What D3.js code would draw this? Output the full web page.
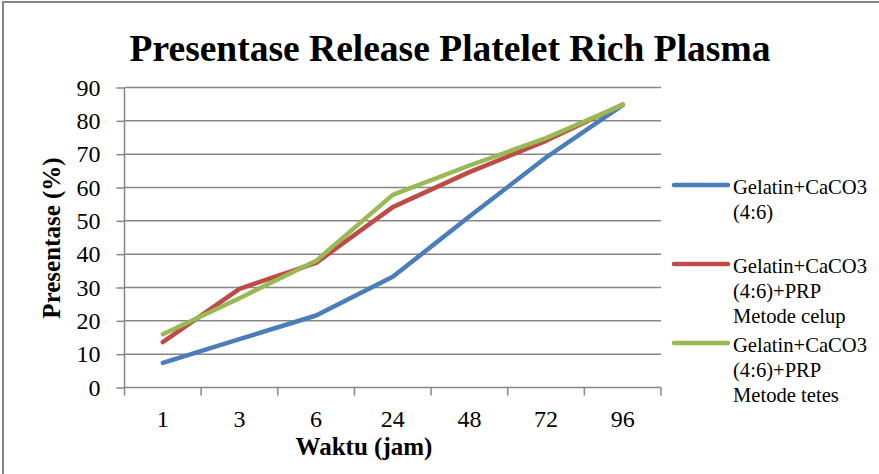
<!DOCTYPE html>
<html>
<head>
<meta charset="utf-8">
<script src="https://cdn.jsdelivr.net/npm/d3@7"></script>
<style>
html,body{margin:0;padding:0;background:#fff;}
svg{display:block;}
text{font-family:"Liberation Serif","Times New Roman",serif;fill:#000;}
</style>
</head>
<body>
<svg id="chart" width="879" height="474"></svg>
<script>
const categories = ["1", "3", "6", "24", "48", "72", "96"];
const seriesNames = [
  ["Gelatin+CaCO3", "(4:6)"],
  ["Gelatin+CaCO3", "(4:6)+PRP", "Metode celup"],
  ["Gelatin+CaCO3", "(4:6)+PRP", "Metode tetes"]
];
const seriesA = [7.4, 14.5, 21.6, 33.2, 51.3, 69.0, 84.7];
const seriesB = [13.6, 29.6, 37.4, 54.1, 64.6, 74.0, 84.9];
const seriesC = [16.0, 26.8, 38.0, 57.8, 66.6, 74.8, 84.8];
const yTicks = [0, 10, 20, 30, 40, 50, 60, 70, 80, 90];
const colors = ["#4A7EBB", "#BE4B48", "#98B954"];
const title = "Presentase Release Platelet Rich Plasma";
const xTitle = "Waktu (jam)";
const yTitle = "Presentase (%)";

const svg = d3.select("#chart");
const W = 879, H = 474;
const plot = {left: 124.5, right: 661, top: 87.5, bottom: 387.5};

// outer border
svg.append("rect").attr("x", 3).attr("y", 2).attr("width", W + 10).attr("height", H + 10)
  .attr("fill", "none").attr("stroke", "#868686").attr("stroke-width", 2);

const x = d3.scaleBand().domain(categories).range([plot.left, plot.right]).padding(0);
const y = d3.scaleLinear().domain([0, 90]).range([plot.bottom, plot.top]);
const gridColor = "#868686";

// gridlines
svg.append("g").selectAll("line").data(yTicks.filter(d => d > 0)).join("line")
  .attr("x1", plot.left).attr("x2", plot.right)
  .attr("y1", d => y(d)).attr("y2", d => y(d))
  .attr("stroke", gridColor).attr("stroke-width", 1.5);

// y axis
const yAxis = d3.axisLeft(y).tickValues(yTicks).tickSize(8).tickPadding(16).tickFormat(d3.format("d"));
const gy = svg.append("g").attr("transform", `translate(${plot.left},0)`).call(yAxis);
gy.select(".domain").attr("stroke", gridColor).attr("stroke-width", 1.5).attr("d", `M0,${plot.top}V${plot.bottom}`);
gy.selectAll(".tick line").attr("stroke", gridColor).attr("stroke-width", 1.5);
gy.selectAll(".tick text").attr("font-size", 24).attr("fill", "#000");

// x axis
const xAxis = d3.axisBottom(x).tickSize(0).tickPadding(22);
const gx = svg.append("g").attr("transform", `translate(0,${plot.bottom})`).call(xAxis);
gx.select(".domain").attr("stroke", gridColor).attr("stroke-width", 1.5).attr("d", `M${plot.left},0H${plot.right}`);
gx.selectAll(".tick text").attr("font-size", 24).attr("fill", "#000");
// x boundary ticks
const xb = categories.map(c => x(c)).concat([x(categories[categories.length - 1]) + x.bandwidth()]);
gx.selectAll(".bt").data(xb).join("line").attr("class", "bt")
  .attr("x1", d => d).attr("x2", d => d).attr("y1", 0).attr("y2", 8)
  .attr("stroke", gridColor).attr("stroke-width", 1.5);

// lines
const allSeries = [seriesA, seriesB, seriesC];
const line = d3.line().x((d, i) => x(categories[i]) + x.bandwidth() / 2).y(d => y(d));
svg.append("g").selectAll("path").data(allSeries).join("path")
  .attr("d", d => line(d)).attr("fill", "none")
  .attr("stroke", (d, i) => colors[i]).attr("stroke-width", 4.5)
  .attr("stroke-linejoin", "round").attr("stroke-linecap", "round");

// title
svg.append("text").attr("x", 450).attr("y", 61).attr("text-anchor", "middle")
  .attr("font-size", 37.5).attr("font-weight", "bold").text(title);

// axis titles
svg.append("text").attr("x", 364).attr("y", 455).attr("text-anchor", "middle")
  .attr("font-size", 25).attr("font-weight", "bold").text(xTitle);
svg.append("text").attr("transform", "translate(60,238) rotate(-90)").attr("text-anchor", "middle")
  .attr("font-size", 25).attr("font-weight", "bold").text(yTitle);

// legend
const legendY = [185, 264, 343];
const lg = svg.append("g");
seriesNames.forEach((lines, i) => {
  lg.append("line").attr("x1", 674).attr("x2", 728).attr("y1", legendY[i]).attr("y2", legendY[i])
    .attr("stroke", colors[i]).attr("stroke-width", 4.5).attr("stroke-linecap", "round");
  lines.forEach((t, j) => {
    lg.append("text").attr("x", 733).attr("y", legendY[i] + 9 + j * 25)
      .attr("font-size", 20.6).text(t);
  });
});
</script>
</body>
</html>
